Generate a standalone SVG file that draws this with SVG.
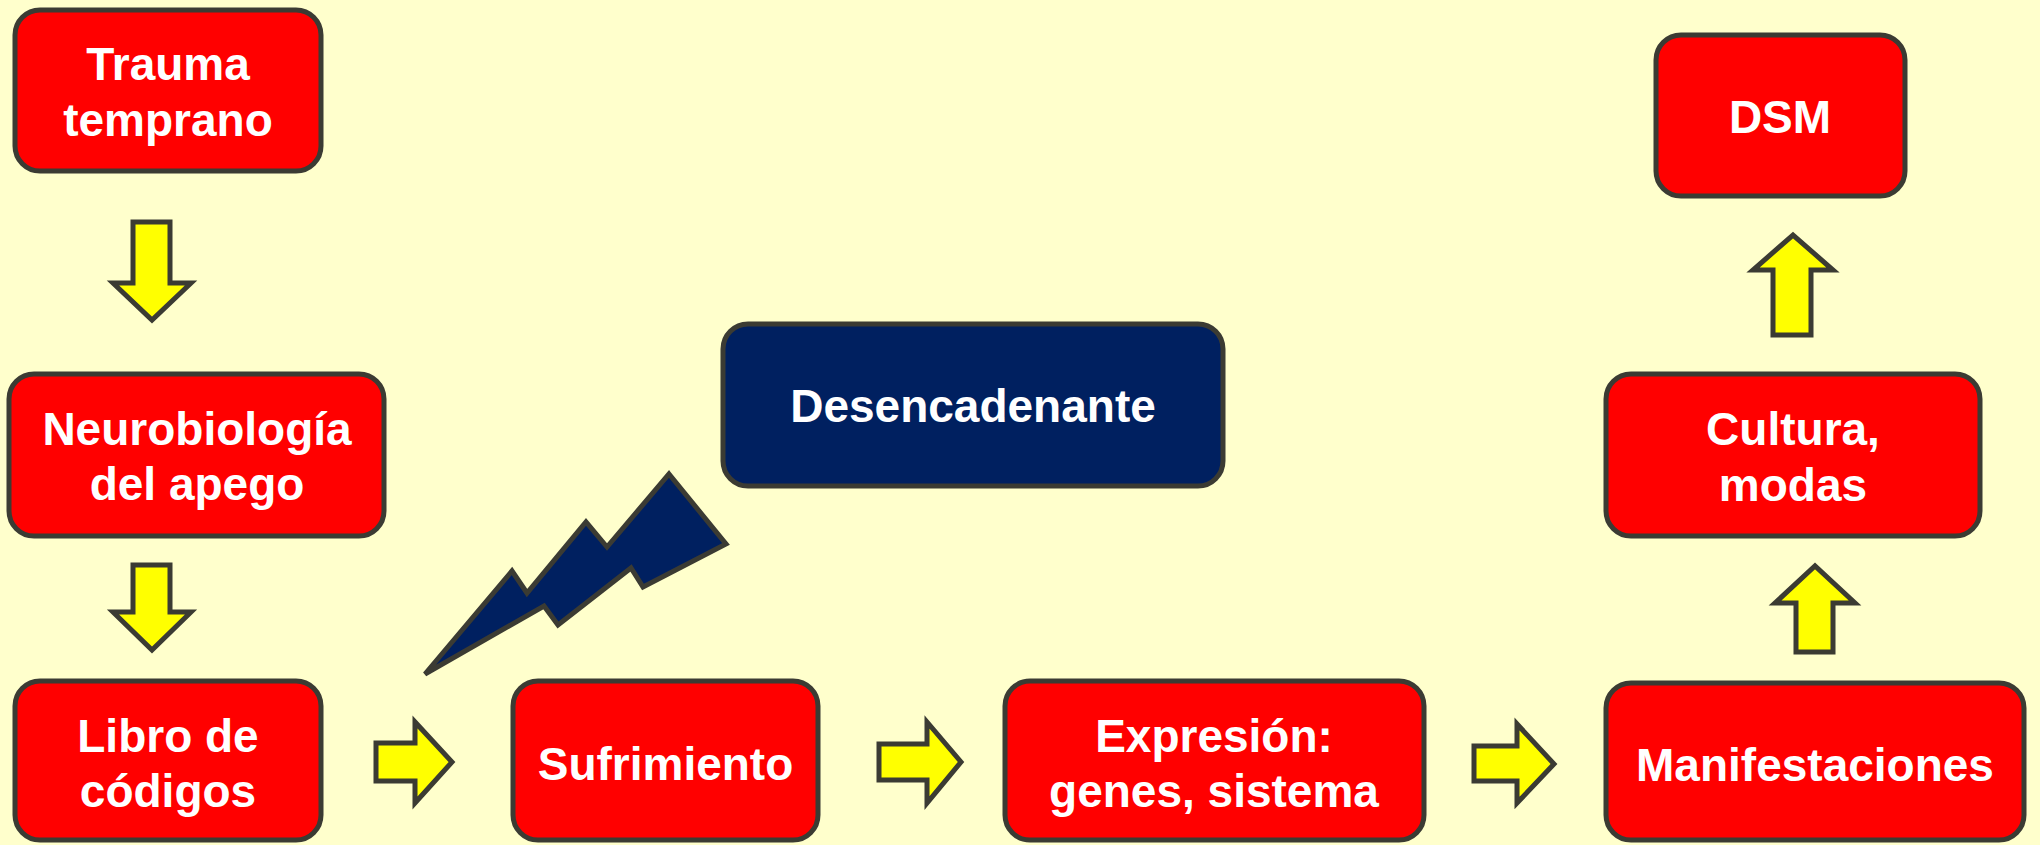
<svg xmlns="http://www.w3.org/2000/svg" width="2040" height="845" viewBox="0 0 2040 845">
<style>
.box{fill:#ff0000;stroke:#3b3b33;stroke-width:5}
.navy{fill:#002060;stroke:#3b3b33;stroke-width:5}
.arr{fill:#ffff00;stroke:#3b3b33;stroke-width:5}
.t{font-family:"Liberation Sans",Arial,sans-serif;font-weight:bold;font-size:46px;fill:#ffffff;text-anchor:middle}
</style>
<rect width="2040" height="845" fill="#ffffcc"/>
<g id="connectors">
<polygon class="arr" points="133,222 170,222 170,283 191,283 152,320 113,283 133,283"/>
<polygon class="arr" points="133,565 170,565 170,612 191,612 152,650 113,612 133,612"/>
<polygon class="arr" points="376,743 415,743 415,722 452,762 415,803 415,781 376,781"/>
<polygon class="arr" points="879,744 927,744 927,722 961,762 927,803 927,780 879,780"/>
<polygon class="arr" points="1474,746 1517,746 1517,724 1554,764 1517,803 1517,781 1474,781"/>
<polygon class="arr" points="1773,335 1773,270 1753,270 1793,235 1833,270 1811,270 1811,335"/>
<polygon class="arr" points="1796,652 1796,603 1775,603 1815,566 1855,603 1833,603 1833,652"/>
<polygon class="navy" points="669,474 726,544 643,587 631,568 558,625 544,606 425,674 512,571 527,593 586,522 607,547"/>
</g>
<g id="trauma">
<rect class="box" x="15" y="10" width="306" height="161" rx="25"/>
<text class="t" x="168" y="80">Trauma</text>
<text class="t" x="168" y="136">temprano</text>
</g>
<g id="neurobiologia">
<rect class="box" x="9" y="374" width="375" height="162" rx="25"/>
<text class="t" x="197" y="445">Neurobiología</text>
<text class="t" x="197" y="500">del apego</text>
</g>
<g id="libro">
<rect class="box" x="15" y="681" width="306" height="159" rx="25"/>
<text class="t" x="168" y="752">Libro de</text>
<text class="t" x="168" y="807">códigos</text>
</g>
<g id="desencadenante">
<rect class="navy" x="723" y="324" width="500" height="162" rx="25"/>
<text class="t" x="973" y="422">Desencadenante</text>
</g>
<g id="sufrimiento">
<rect class="box" x="513" y="681" width="305" height="159" rx="25"/>
<text class="t" x="665.5" y="780">Sufrimiento</text>
</g>
<g id="expresion">
<rect class="box" x="1005" y="681" width="419" height="159" rx="25"/>
<text class="t" x="1214" y="752">Expresión:</text>
<text class="t" x="1214" y="807">genes, sistema</text>
</g>
<g id="manifestaciones">
<rect class="box" x="1606" y="683" width="418" height="157" rx="25"/>
<text class="t" x="1815" y="781">Manifestaciones</text>
</g>
<g id="cultura">
<rect class="box" x="1606" y="374" width="374" height="162" rx="25"/>
<text class="t" x="1793" y="445">Cultura,</text>
<text class="t" x="1793" y="501">modas</text>
</g>
<g id="dsm">
<rect class="box" x="1656" y="35" width="249" height="161" rx="25"/>
<text class="t" x="1780" y="133">DSM</text>
</g>
</svg>
